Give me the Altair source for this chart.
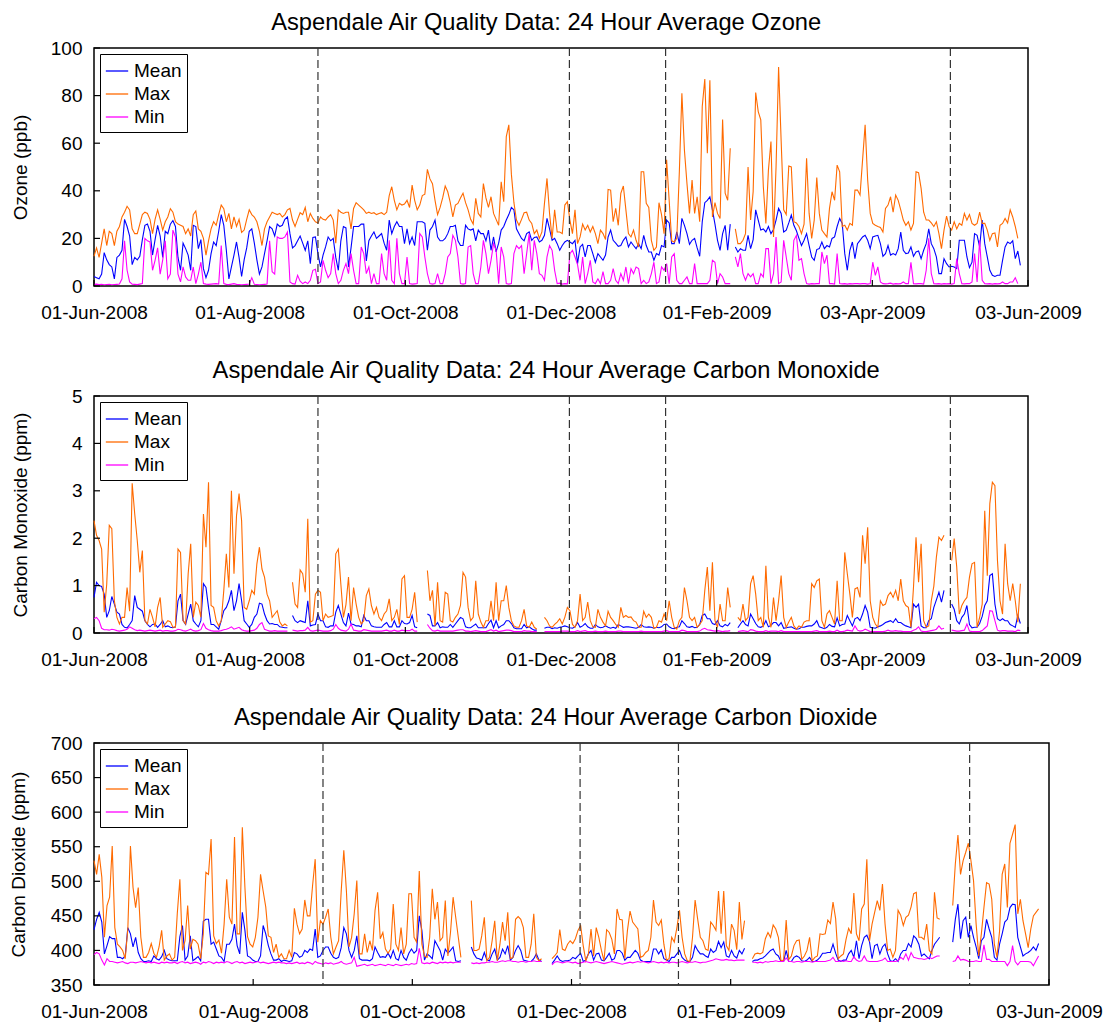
import altair as alt
import pandas as pd

FONT = "Liberation Sans"
TICK_LABELS = ["01-Jun-2008", "01-Aug-2008", "01-Oct-2008", "01-Dec-2008",
               "01-Feb-2009", "03-Apr-2009", "03-Jun-2009"]
X_END = 367
EVENT_DAYS = [88.0, 186.8, 224.6, 336.5]
SERIES = ["Mean", "Max", "Min"]
COLORS = ["#0000FF", "#FF6A00", "#FF00FF"]
N = None

# ---------------- Ozone (ppb), daily from 01-Jun-2008 ----------------
ozone_mean = [
    4, 3.5, 3, 5, 14, 11, 9, 8, 3, 12,
    13, 15, 28, 25, 21, 9, 12, 11, 12.5, 19.5,
    25.5, 26, 23, 13, 19.5, 25.5, 21, 12, 23, 22,
    26, 27.5, 25, 12, 6.6, 18, 15.7, 13, 6.6, 25.5,
    25, 15.7, 19.5, 7.3, 3.5, 6.6, 13.6, 18.5, 17, 23,
    30, 25.5, 15, 3, 8, 13, 18.5, 12, 4, 11,
    16, 23, 24, 18, 11, 5, 8, 13.6, 19, 25,
    24, 21, 26, 25, 25.5, 28, 29, 22, 16, 17,
    19, 21, 18, 15, 19, 9.4, 20.4, 20.6, 13.6, 8,
    13, 16.4, 20.6, 19, 20, 12, 6.6, 19, 25, 24.4,
    8, 16, 25, 25, 25, 26, 26, 10.5, 19, 21,
    22.7, 20, 21, 22, 18, 15, 27.7, 22, 25, 27,
    25, 25, 17.8, 24, 17.8, 20.6, 17, 27, 27, 27,
    26.3, 15, 23.5, 25, 27.7, 20.6, 19, 19, 20, 22,
    25, 25, 25.5, 19, 17, 17, 25.5, 24, 23.5, 24,
    19, 23.5, 22, 22, 19, 23.5, 15, 20.6, 14.3, 18,
    23.5, 25, 27.7, 30, 33, 32, 24, 22, 20, 19,
    22, 22.7, 19.2, 20.4, 20.6, 18.5, 19.2, 21.3, 28.4, 24,
    19.2, 20, 17.8, 15, 17, 18.5, 19.2, 18.5, 17.8, 19.2,
    9.4, 16.4, 17.5, 12.2, 17, 17, 13.6, 10, 13.6, 12.2,
    10.8, 13, 20.6, 23.5, 19.2, 18, 16.7, 17, 19.2, 20.6,
    16.4, 18.5, 17, 15.7, 17.8, 15.7, 21.3, 17, 14.3, 14.3,
    10.8, 13.6, 13, 17, 16.4, 27.7, 26.5, 17.8, 17.8, 22.7,
    17.8, 28.4, 25.5, 22, 17.5, 19.2, 20, 16, 12.5, 27,
    35, 36, 37.5, 32, 26, 19.2, 15, 22, 25.5, 15,
    26, N, 16.4, 14.3, 15.7, 15, 15, 21.3, 15.7, 19.5,
    32, 27.7, 23.5, 24, 22.7, 25, 22, 23.7, 27.7, 32.6,
    30.5, 22.7, 23.5, 26.5, 29.8, 25.5, 23.2, 20, 17, 19.2,
    22, 17, 12.2, 10.8, 15.3, 15.7, 18.5, 15.7, 17, 16.4,
    20, 20.6, 25, 28.4, 26.3, 13.6, 6.6, 15, 18.5, 11.5,
    17.8, 19.2, 20.6, 21.3, 19.2, 15.7, 20.6, 21, 21.3, 17.8,
    12.5, 13.6, 17, 13, 13.6, 13, 15.7, 22.7, 15, 13.6,
    13.9, 16.4, 12.5, 14.3, 14.7, 11.5, 15, 17.8, 24, 17.8,
    15.7, 12.2, 5.2, 5.2, 11.5, 9.4, 8, 8.3, 8, 7.3,
    19.2, 19.2, 19.2, 12.2, 7.7, 10, 22, 21.3, 16.4, 27.7,
    17.8, 12.2, 6.6, 4.5, 4, 4.5, 4.5, 10.8, 16.4, 18.5,
    17.8, 19, 11.5, 14.7, 8.7,
]
ozone_max = [
    12.5, 16, 12, 18, 24, 17, 23, 22, 17, 23,
    25, 29, 31, 33.5, 32, 24, 22, 22, 26, 30,
    31, 30.5, 28, 22, 28, 32, 28, 23.5, 27, 29,
    32.5, 31, 27, 26, 25.5, 25, 22, 24, 21, 30,
    31.5, 24, 23, 20, 13, 19, 24, 27, 25.5, 30,
    34, 32.5, 27, 30.5, 24, 29, 25, 28, 22.5, 23.5,
    28, 32, 30, 29, 27, 23, 17, 24, 27, 29,
    31, 30.5, 30, 30.5, 29, 30, 32, 32.6, 27.7, 25,
    28, 30.8, 30, 33, 27, 30.5, 28.4, 27, 26.5, 29,
    28, 27.7, 29, 30, 27.7, 18, 32, 31, 30.5, 31,
    31, 24, 32.6, 35, 34, 33, 32, 30.5, 31, 30.5,
    30.8, 30, 30.5, 30.8, 30, 31, 38, 41.7, 36, 32,
    34.7, 34, 34.4, 36, 33, 42.4, 36, 32, 34, 38,
    38.6, 49, 45, 43, 36, 30, 33, 37, 42, 39.6,
    35, 29, 34, 34.7, 37, 39, 35, 32, 28, 26,
    36.8, 30.5, 29, 43, 37, 33, 37.5, 30.5, 28, 25.5,
    43.8, 35.4, 62.8, 67.7, 47, 35, 27.7, 25.5, 28, 30.8,
    31, 27.7, 26.3, 22, 23.5, 20, 22.7, 34.7, 45.2, 30.5,
    20, 32, 22.7, 22.7, 22, 34, 35.4, 27.7, 22, 32,
    17.8, 20.6, 26, 23.5, 25.5, 22.7, 25, 22, 17.8, 23.5,
    22, 19.5, 40.6, 40.3, 27, 32.6, 25.5, 38.9, 42, 32,
    22, 20.6, 23.5, 19.2, 16.4, 48, 48, 34.7, 33, 19.2,
    15, 16.4, 35, 30, 22, 53, 36, 19, 18.5, 20,
    48, 81, 57, 43, 30.5, 44.5, 30.5, 37.5, 27, 75.4,
    87, 55.8, 86.4, 29, 35, 30.5, 28.4, 70, 39, 36,
    57.9, N, 24, 17.8, 17.8, 19.2, 22, 50, 27.7, 39.6,
    81.3, 73.3, 69.8, 41.7, 26.3, 48.7, 60.7, 20.6, 50, 92,
    61, 32, 30, 50.4, 50, 27, 26.5, 25, 22, 26,
    53.7, 30.5, 20, 27.7, 45.6, 30.5, 23.5, 22, 20.6, 32.6,
    39.6, 36, 50.8, 48, 25, 25.5, 23.5, 26.3, 25.5, 40.3,
    40.3, 38.2, 53, 67.7, 44.5, 30.5, 26.3, 25.5, 25, 24.6,
    22.7, 32.6, 34, 37.5, 31, 38.2, 36, 32, 27.7, 25.5,
    27, 23.5, 26.3, 48, 47.6, 41, 31, 27.7, 27.7, 26.5,
    25, 27, 22, 15.7, 23.5, 29.4, 25, 23.5, 27, 24,
    26.3, 25.5, 30.5, 27.7, 30, 26.3, 25.5, 26.3, 31, 26.3,
    26.3, 23.5, 19.2, 22, 22.3, 16.4, 25.5, 26.3, 28.4, 26.5,
    32, 29, 25, 20,
]
ozone_min = [
    0.7, 0.8, 0.6, 0.7, 0.5, 0.6, 0.7, 0.5, 0.6, 0.7,
    0.8, 3, 19, 6.6, 1.7, 0.8, 0.7, 0.6, 0.8, 1,
    20, 19, 18.5, 6.6, 10.8, 16, 5, 11, 19, 3,
    5, 23.5, 20.6, 5, 1.7, 8, 3.8, 2.4, 2.4, 8,
    1, 5, 10, 1, 0.8, 0.7, 0.8, 0.9, 1, 0.8,
    17, 1, 0.7, 0.6, 0.8, 1, 0.7, 0.6, 0.5, 0.6,
    0.7, 0.8, 3.5, 0.7, 0.6, 0.5, 0.6, 0.7, 0.8, 19,
    6, 5, 20.6, 20, 20, 20.6, 22.7, 1.7, 1, 0.8,
    4.5, 2, 1, 1.7, 1, 2.4, 6.6, 7, 1, 1.7,
    10.8, 6.6, 3.5, 5.2, 13.6, 5.2, 1, 2.4, 6.6, 9.4,
    5.2, 13.6, 6.6, 1, 1, 16.4, 13.6, 5.2, 8, 1,
    5.2, 1, 1, 13.6, 5.2, 2.4, 19.2, 2.4, 1, 20,
    5.2, 1, 1, 12.2, 1, 0.8, 0.9, 1, 22, 20.6,
    12.2, 5.2, 1, 0.8, 1, 5.2, 1, 1, 5.2, 12.2,
    13.6, 21.3, 19.2, 12.2, 1, 0.8, 1, 16.4, 17, 5.2,
    1, 1, 8, 19.2, 13.6, 5.2, 10.8, 17.8, 15, 1,
    16.4, 12.2, 1, 0.8, 1, 13.6, 17, 15.7, 17, 5.2,
    13.6, 22, 6.6, 19.2, 13.6, 5.2, 4.5, 2.4, 12.2, 17,
    15, 6.6, 1, 1.2, 0.8, 1, 0.9, 13.6, 15, 12.2,
    9, 2.4, 12.2, 1, 5.2, 10.8, 1.7, 1, 3, 1,
    6, 1, 1, 2.4, 7.3, 2.4, 1, 5.2, 2.4, 8,
    1, 7.3, 5.2, 8, 7.3, 1, 2.4, 1, 1.7, 5.2,
    10, 1, 1.7, 8, 6.6, 9.4, 1, 12.2, 13.6, 2.4,
    1, 1, 2.4, 3.8, 1, 1, 9.4, 1, 1, 1,
    1, 1, 2.4, 10.8, 10, 1, 5.2, 3.8, 1, 1,
    1, N, 12.2, 8, 13.6, 5.2, 2.4, 5.2, 3.8, 5.2,
    1, 1, 5.2, 3.8, 15.7, 15.7, 1, 5.2, 20.6, 1,
    1.7, 19.2, 12.2, 5.2, 2.4, 19.2, 21.3, 10.8, 11.5, 5.2,
    1, 0.8, 1, 0.9, 1, 1, 14.3, 9.4, 13, 1,
    1, 0.8, 13.6, 1, 0.9, 1, 0.8, 1, 0.9, 1,
    1, 0.9, 1, 1, 0.8, 1, 10, 4.5, 8, 1.7,
    1, 0.9, 1, 1.2, 0.8, 1, 0.9, 1, 1.7, 1,
    1, 10, 1, 0.9, 1, 1, 0.8, 6.6, 20, 5.2,
    1, 0.9, 1, 0.8, 1, 0.9, 1, 0.8, 1, 11.5,
    5.2, 1, 0.9, 1, 1, 1.7, 13.6, 1.7, 19.2, 2.4,
    1, 0.9, 1, 0.8, 1, 0.9, 1, 1.7, 1, 1,
    1.7, 1.7, 3.5, 1,
]

# ---------------- Carbon monoxide (ppm) ----------------
co_mean = [
    0.75, 1.07, 1.0, 0.98, 0.82, 0.33, 0.47, 0.77, 0.61, 0.44,
    0.4, 0.18, 0.12, 0.11, 0.18, 0.26, 0.79, 0.54, 0.5, 0.46,
    0.26, 0.18, 0.13, 0.18, 0.19, 0.12, 0.18, 0.26, 0.13, 0.15,
    0.12, 0.11, 0.13, 0.68, 0.82, 0.26, 0.18, 0.4, 0.61, 0.26,
    0.19, 0.13, 0.26, 1.04, 0.96, 0.54, 0.18, 0.18, 0.13, 0.08,
    0.26, 0.47, 0.54, 0.68, 0.9, 0.47, 0.68, 1.04, 0.68, 0.26,
    0.19, 0.12, 0.18, 0.33, 0.4, 0.63, 0.61, 0.4, 0.26, 0.19,
    0.2, 0.18, 0.18, 0.13, 0.12, 0.11, 0.11, N, 0.37, 0.26,
    0.22, 0.26, 0.24, 0.22, 0.68, 0.15, 0.17, 0.18, 0.4, 0.26,
    0.26, 0.13, 0.12, 0.15, 0.15, 0.44, 0.58, 0.4, 0.22, 0.15,
    0.42, 0.19, 0.18, 0.15, 0.15, 0.13, 0.37, 0.26, 0.26, 0.15,
    0.13, 0.12, 0.12, 0.12, 0.18, 0.22, 0.13, 0.13, 0.26, 0.13,
    0.13, 0.26, 0.2, 0.19, 0.22, 0.37, 0.13, 0.11, N, N,
    N, 0.4, 0.37, 0.15, 0.15, 0.22, 0.11, 0.13, 0.12, 0.12,
    0.18, 0.12, 0.19, 0.26, 0.33, 0.3, 0.13, 0.11, 0.11, 0.15,
    0.19, 0.11, 0.11, 0.11, 0.11, 0.2, 0.27, 0.11, 0.26, 0.11,
    0.15, 0.18, 0.26, 0.26, 0.2, 0.11, 0.09, 0.09, 0.09, 0.18,
    0.11, 0.13, 0.09, 0.06, 0.06, N, N, 0.1, 0.12, 0.12,
    0.09, 0.11, 0.1, 0.12, 0.13, 0.15, 0.13, 0.11, 0.1, 0.13,
    0.22, 0.12, 0.15, 0.2, 0.13, 0.1, 0.1, 0.18, 0.13, 0.11,
    0.12, 0.15, 0.12, 0.1, 0.12, 0.1, 0.18, 0.15, 0.12, 0.13,
    0.13, 0.12, 0.11, 0.1, 0.12, 0.18, 0.13, 0.12, 0.13, 0.12,
    0.1, 0.12, 0.11, 0.13, 0.18, 0.19, 0.13, 0.1, 0.09, 0.12,
    0.13, 0.26, 0.2, 0.13, 0.12, 0.14, 0.11, 0.12, 0.18, 0.37,
    0.4, 0.3, 0.3, 0.2, 0.18, 0.26, 0.15, 0.13, 0.18, 0.15,
    0.22, N, N, 0.11, 0.19, 0.26, 0.18, 0.15, 0.4, 0.3,
    0.2, 0.13, 0.12, 0.15, 0.26, 0.13, 0.16, 0.22, 0.22, 0.15,
    0.22, 0.1, 0.11, 0.12, 0.13, 0.1, 0.08, 0.09, 0.12, 0.12,
    0.14, 0.15, 0.15, 0.19, 0.26, 0.13, 0.11, 0.09, 0.12, 0.18,
    0.14, 0.13, 0.32, 0.15, 0.18, 0.19, 0.37, 0.26, 0.15, 0.3,
    0.33, 0.26, 0.4, 0.58, 0.44, 0.12, 0.11, 0.1, 0.13, 0.15,
    0.18, 0.22, 0.24, 0.26, 0.22, 0.3, 0.22, 0.22, 0.18, 0.15,
    0.13, 0.11, 0.61, 0.54, 0.61, 0.15, 0.11, 0.11, 0.26, 0.3,
    0.54, 0.7, 0.86, 0.65, 0.9, N, N, 0.61, 0.5, 0.26,
    0.19, 0.33, 0.4, 0.58, 0.18, 0.11, 0.12, 0.12, 0.2, 0.35,
    0.58, 0.68, 1.21, 1.25, 0.61, 0.3, 0.26, 0.3, 0.26, 0.26,
    0.18, 0.15, 0.12, 0.37, 0.2,
]
co_max = [
    2.37, 2.06, 1.95, 1.77, 0.44, 1.03, 2.27, 2.2, 0.68, 0.33,
    0.19, 0.33, 0.33, 0.96, 0.46, 3.16, 2.51, 1.95, 1.28, 1.74,
    0.26, 0.19, 0.5, 0.33, 0.13, 0.54, 0.75, 0.12, 0.19, 0.26,
    0.24, 0.12, 0.12, 1.77, 1.7, 0.26, 0.19, 1.25, 1.88, 0.33,
    0.65, 0.58, 0.33, 2.51, 1.81, 3.18, 0.58, 0.54, 0.26, 0.15,
    0.26, 0.9, 1.67, 0.96, 3.0, 1.25, 2.48, 2.94, 2.37, 0.54,
    0.5, 0.68, 0.9, 0.82, 1.46, 1.81, 1.35, 1.18, 0.82, 0.68,
    0.33, 0.4, 0.47, 0.23, 0.15, 0.19, 0.15, N, 1.07, 0.61,
    0.54, 1.33, 1.25, 0.86, 2.41, 0.23, 0.26, 0.82, 0.9, 0.86,
    0.26, 0.4, 0.33, 0.35, 0.37, 1.67, 1.77, 1.03, 0.33, 0.6,
    1.18, 0.26, 0.96, 0.61, 0.33, 0.19, 0.26, 0.79, 0.93, 0.58,
    0.4, 0.54, 0.33, 0.26, 0.4, 0.47, 0.72, 0.26, 0.33, 0.5,
    0.18, 1.14, 1.21, 0.33, 0.33, 0.5, 0.86, 0.23, N, N,
    N, 1.32, 0.68, 0.9, 0.15, 1.07, 0.26, 0.23, 0.86, 0.82,
    0.26, 0.23, 0.33, 0.4, 0.58, 1.28, 1.18, 0.54, 0.26, 0.33,
    1.1, 0.4, 0.23, 0.12, 0.26, 0.26, 0.68, 0.26, 1.07, 0.26,
    0.68, 0.68, 1.0, 0.54, 0.26, 0.15, 0.12, 0.12, 0.26, 0.5,
    0.15, 0.12, 0.23, 0.12, 0.08, N, N, 0.33, 0.26, 0.15,
    0.12, 0.18, 0.23, 0.3, 0.19, 0.33, 0.54, 0.47, 0.18, 0.12,
    0.26, 0.82, 0.26, 0.33, 0.65, 0.26, 0.13, 0.12, 0.5, 0.33,
    0.23, 0.15, 0.46, 0.33, 0.26, 0.18, 0.12, 0.54, 0.33, 0.37,
    0.33, 0.34, 0.26, 0.23, 0.12, 0.12, 0.46, 0.33, 0.4, 0.33,
    0.1, 0.12, 0.26, 0.23, 0.4, 0.26, 0.68, 0.33, 0.12, 0.08,
    0.26, 0.33, 0.96, 0.68, 0.33, 0.26, 0.33, 0.12, 0.18, 0.26,
    0.9, 1.39, 0.47, 1.49, 0.26, 0.12, 0.61, 0.26, 0.26, 0.96,
    0.54, N, N, 0.33, 0.26, 0.61, 0.26, 0.33, 1.04, 1.21,
    0.82, 0.26, 0.33, 0.12, 1.42, 0.33, 0.12, 0.75, 0.26, 0.68,
    1.21, 0.33, 0.12, 0.23, 0.33, 0.15, 0.08, 0.15, 0.12, 0.23,
    0.26, 0.26, 1.04, 0.96, 1.1, 1.14, 0.26, 0.12, 0.4, 0.47,
    0.33, 0.19, 1.1, 0.26, 0.26, 1.7, 1.25, 0.82, 0.33, 0.93,
    0.96, 0.75, 2.06, 1.46, 2.23, 0.68, 0.33, 0.19, 0.12, 0.68,
    0.58, 0.61, 0.79, 0.86, 0.75, 0.9, 0.68, 1.14, 0.68, 0.58,
    0.54, 0.12, 0.96, 2.02, 1.07, 1.88, 0.26, 0.12, 0.15, 0.68,
    0.99, 1.6, 2.02, 1.95, 2.06, N, N, 1.53, 1.99, 1.39,
    0.4, 0.58, 0.68, 0.75, 1.18, 1.46, 1.49, 0.12, 0.33, 0.61,
    2.58, 1.21, 2.73, 3.18, 3.11, 1.53, 0.68, 0.4, 1.88, 1.04,
    0.68, 1.04, 0.68, 0.23, 1.04,
]
co_min = [
    0.3, 0.33, 0.26, 0.1, 0.07, 0.07, 0.06, 0.08, 0.07, 0.05,
    0.04, 0.05, 0.06, 0.08, 0.13, 0.1, 0.07, 0.05, 0.06, 0.05,
    0.04, 0.05, 0.06, 0.05, 0.04, 0.05, 0.06, 0.04, 0.05, 0.05,
    0.04, 0.04, 0.05, 0.08, 0.07, 0.05, 0.04, 0.06, 0.08, 0.05,
    0.04, 0.05, 0.07, 0.2, 0.1, 0.07, 0.05, 0.04, 0.04, 0.04,
    0.05, 0.07, 0.08, 0.1, 0.13, 0.08, 0.1, 0.12, 0.07, 0.05,
    0.04, 0.04, 0.05, 0.06, 0.1, 0.18, 0.22, 0.08, 0.06, 0.04,
    0.04, 0.05, 0.04, 0.04, 0.04, 0.04, 0.04, N, 0.06, 0.05,
    0.04, 0.05, 0.05, 0.06, 0.12, 0.05, 0.04, 0.05, 0.06, 0.05,
    0.04, 0.04, 0.04, 0.05, 0.08, 0.18, 0.1, 0.06, 0.05, 0.04,
    0.08, 0.19, 0.06, 0.05, 0.04, 0.04, 0.07, 0.06, 0.05, 0.04,
    0.04, 0.04, 0.04, 0.04, 0.05, 0.06, 0.04, 0.04, 0.06, 0.04,
    0.04, 0.06, 0.05, 0.05, 0.05, 0.08, 0.04, 0.04, N, N,
    N, 0.18, 0.1, 0.05, 0.04, 0.06, 0.04, 0.04, 0.04, 0.04,
    0.04, 0.04, 0.05, 0.06, 0.07, 0.07, 0.04, 0.04, 0.03, 0.04,
    0.05, 0.04, 0.03, 0.03, 0.03, 0.05, 0.07, 0.04, 0.06, 0.03,
    0.04, 0.05, 0.06, 0.06, 0.05, 0.03, 0.03, 0.03, 0.03, 0.05,
    0.04, 0.04, 0.03, 0.03, 0.03, N, N, 0.03, 0.03, 0.03,
    0.03, 0.03, 0.03, 0.03, 0.04, 0.04, 0.04, 0.03, 0.03, 0.03,
    0.05, 0.03, 0.04, 0.05, 0.03, 0.03, 0.03, 0.04, 0.03, 0.03,
    0.03, 0.04, 0.03, 0.03, 0.03, 0.03, 0.04, 0.04, 0.03, 0.03,
    0.03, 0.03, 0.03, 0.03, 0.03, 0.04, 0.03, 0.03, 0.03, 0.03,
    0.03, 0.03, 0.03, 0.03, 0.04, 0.05, 0.03, 0.03, 0.03, 0.03,
    0.03, 0.06, 0.05, 0.03, 0.03, 0.03, 0.03, 0.03, 0.04, 0.08,
    0.1, 0.07, 0.06, 0.05, 0.04, 0.05, 0.04, 0.03, 0.04, 0.04,
    0.05, N, N, 0.03, 0.04, 0.05, 0.04, 0.03, 0.07, 0.06,
    0.04, 0.03, 0.03, 0.03, 0.05, 0.03, 0.04, 0.04, 0.04, 0.03,
    0.05, 0.03, 0.03, 0.03, 0.03, 0.03, 0.03, 0.03, 0.03, 0.03,
    0.03, 0.03, 0.03, 0.04, 0.05, 0.03, 0.03, 0.03, 0.03, 0.04,
    0.03, 0.03, 0.06, 0.03, 0.03, 0.04, 0.06, 0.05, 0.04, 0.15,
    0.06, 0.04, 0.05, 0.08, 0.06, 0.03, 0.03, 0.03, 0.03, 0.03,
    0.03, 0.04, 0.06, 0.04, 0.04, 0.05, 0.04, 0.04, 0.03, 0.03,
    0.03, 0.03, 0.06, 0.08, 0.13, 0.04, 0.03, 0.03, 0.04, 0.05,
    0.06, 0.08, 0.15, 0.08, 0.1, N, N, 0.06, 0.05, 0.04,
    0.04, 0.05, 0.06, 0.19, 0.04, 0.03, 0.03, 0.03, 0.03, 0.05,
    0.1, 0.15, 0.47, 0.46, 0.26, 0.06, 0.04, 0.05, 0.05, 0.04,
    0.04, 0.04, 0.03, 0.06, 0.05,
]

# ---------------- Carbon dioxide (ppm) ----------------
co2_mean = [
    430, 445, 455, 441, 395, 407, 420, 417, 417, 390,
    390, 388, 392, 433, 424, 405, 419, 397, 388, 384,
    384, 385, 384, 392, 388, 386, 391, 400, 388, 386,
    385, 385, 385, 420, 436, 386, 392, 421, 385, 388,
    391, 385, 442, 445, 445, 409, 412, 402, 392, 390,
    384, 409, 409, 416, 438, 407, 395, 455, 429, 392,
    390, 386, 384, 384, 392, 436, 424, 407, 395, 386,
    386, 388, 384, 386, 385, 384, 385, 397, 395, 390,
    392, 400, 397, 402, 400, 431, 390, 392, 400, 405,
    405, 396, 390, 388, 390, 404, 433, 424, 400, 390,
    400, 421, 388, 386, 386, 386, 385, 388, 405, 397,
    390, 391, 390, 396, 389, 400, 388, 386, 400, 390,
    386, 396, 402, 396, 400, 450, 429, 386, 395, 392,
    388, 414, 407, 400, 386, 402, 396, 400, 405, 385,
    384, 385, N, N, N, 405, 395, 389, 388, 386,
    397, 386, 385, 395, 402, 386, 390, 402, 395, 407,
    386, 390, 400, 407, 400, 386, 385, 384, 384, 388,
    395, 386, 384, N, N, N, 381, 386, 392, 386,
    384, 385, 385, 386, 390, 388, 392, 396, 384, 386,
    395, 400, 386, 395, 396, 386, 385, 390, 396, 386,
    388, 400, 400, 396, 386, 390, 390, 395, 400, 396,
    386, 384, 384, 384, 384, 402, 402, 395, 401, 388,
    386, 384, 390, 390, 395, 400, 390, 386, 384, 384,
    390, 407, 400, 395, 395, 392, 390, 402, 397, 400,
    413, 404, 412, 392, 390, 400, 392, 389, 400, 395,
    403, N, N, 384, 386, 386, 388, 389, 392, 396,
    400, 402, 395, 392, 384, 384, 400, 384, 384, 390,
    392, 390, 385, 384, 386, 390, 384, 384, 386, 390,
    396, 396, 397, 397, 409, 396, 386, 384, 386, 386,
    395, 400, 390, 414, 388, 407, 419, 422, 413, 388,
    407, 409, 395, 405, 409, 395, 385, 384, 388, 384,
    395, 400, 400, 410, 405, 421, 417, 409, 392, 395,
    391, 388, 400, 409, 414, 419, N, N, N, N,
    412, 445, 467, 417, 443, 448, 419, 436, 419, 405,
    388, 414, 419, 445, 431, 419, 390, 386, 409, 424,
    441, 445, 462, 467, 466, 419, 405, 392, 395, 397,
    400, 405, 400, 410,
]
co2_max = [
    530, 510, 539, 506, 419, 465, 477, 551, 433, 409,
    405, 400, 388, 431, 551, 491, 462, 491, 419, 390,
    390, 397, 410, 396, 390, 405, 429, 386, 392, 395,
    386, 390, 453, 503, 400, 414, 465, 402, 416, 414,
    409, 388, 424, 513, 510, 561, 421, 410, 415, 396,
    438, 503, 448, 438, 564, 424, 424, 578, 491, 420,
    409, 405, 419, 448, 510, 486, 463, 421, 419, 397,
    409, 390, 395, 388, 388, 400, 390, 461, 438, 424,
    431, 473, 450, 450, 494, 532, 412, 443, 438, 448,
    460, 419, 395, 405, 414, 486, 545, 486, 405, 419,
    453, 501, 395, 395, 424, 397, 414, 400, 458, 484,
    417, 426, 402, 396, 402, 467, 409, 400, 433, 395,
    409, 482, 482, 419, 412, 515, 409, 392, 390, 419,
    489, 445, 470, 414, 419, 472, 392, 426, 477, 448,
    419, 390, N, N, N, 472, 400, 400, 402, 421,
    448, 385, 390, 414, 443, 385, 409, 441, 414, 455,
    388, 390, 445, 449, 445, 433, 390, 390, 409, 453,
    390, 385, 388, N, N, N, 388, 392, 397, 430,
    402, 400, 409, 414, 410, 417, 429, 436, 407, 385,
    395, 431, 392, 433, 419, 400, 385, 430, 426, 416,
    395, 460, 445, 444, 388, 429, 457, 441, 436, 431,
    390, 392, 397, 400, 419, 473, 441, 436, 444, 409,
    386, 388, 419, 412, 433, 458, 419, 395, 385, 384,
    419, 473, 445, 419, 414, 402, 400, 441, 436, 429,
    486, 424, 486, 407, 400, 438, 429, 401, 470, 416,
    443, N, N, 388, 395, 396, 395, 397, 417, 426,
    419, 437, 431, 419, 385, 386, 444, 387, 392, 407,
    414, 415, 387, 392, 400, 419, 385, 390, 392, 424,
    423, 424, 444, 439, 470, 446, 388, 392, 395, 416,
    432, 424, 483, 424, 414, 460, 467, 532, 413, 438,
    455, 472, 458, 496, 438, 400, 402, 390, 400, 458,
    451, 436, 448, 451, 463, 482, 484, 419, 419, 416,
    438, 400, 395, 484, 447, 445, N, N, N, N,
    465, 525, 567, 510, 530, 542, 555, 530, 501, 438,
    392, 424, 462, 498, 496, 474, 409, 390, 428, 510,
    525, 462, 555, 568, 582, 453, 474, 443, 424, 404,
    431, 450, 455, 460,
]
co2_min = [
    394, 397, 395, 386, 379, 388, 384, 384, 383, 382,
    383, 384, 382, 381, 383, 383, 382, 383, 384, 383,
    382, 383, 382, 383, 382, 381, 383, 382, 383, 382,
    382, 383, 381, 383, 384, 382, 383, 381, 382, 383,
    382, 380, 383, 382, 384, 383, 381, 383, 382, 383,
    382, 384, 383, 381, 383, 384, 382, 383, 381, 382,
    383, 382, 383, 384, 382, 383, 382, 381, 382, 383,
    382, 383, 382, 382, 381, 382, 381, 382, 383, 381,
    382, 381, 383, 382, 380, 384, 382, 381, 380, 382,
    381, 382, 380, 381, 382, 384, 381, 380, 381, 382,
    390, 377, 378, 379, 380, 378, 379, 380, 378, 379,
    380, 379, 378, 380, 379, 378, 380, 379, 378, 379,
    380, 379, 381, 380, 381, 403, 382, 381, 382, 381,
    383, 382, 381, 383, 382, 383, 382, 383, 382, 383,
    383, 383, N, N, N, 382, 381, 382, 381, 382,
    382, 383, 383, 384, 383, 383, 384, 385, 384, 385,
    385, 384, 384, 383, 384, 384, 383, 384, 384, 385,
    384, 384, 384, N, N, N, 379, 383, 384, 383,
    382, 383, 384, 383, 382, 383, 381, 382, 383, 384,
    383, 382, 383, 384, 383, 382, 381, 382, 383, 384,
    383, 382, 381, 380, 381, 382, 383, 382, 383, 384,
    383, 384, 383, 382, 383, 384, 383, 382, 383, 382,
    383, 382, 383, 383, 382, 383, 384, 383, 382, 383,
    383, 384, 383, 382, 383, 383, 384, 385, 386, 388,
    387, 386, 386, 387, 386, 386, 385, 386, 386, 386,
    386, N, N, 383, 383, 382, 383, 382, 384, 383,
    384, 384, 385, 384, 384, 384, 389, 384, 384, 383,
    384, 384, 383, 384, 384, 384, 383, 384, 384, 384,
    384, 384, 385, 386, 390, 384, 384, 385, 384, 385,
    384, 384, 391, 386, 384, 385, 392, 385, 384, 384,
    384, 384, 385, 386, 389, 384, 384, 384, 384, 385,
    390, 387, 395, 386, 397, 390, 389, 388, 388, 387,
    388, 390, 388, 390, 392, 392, N, N, N, N,
    384, 385, 392, 386, 387, 386, 384, 384, 384, 385,
    384, 384, 408, 387, 387, 384, 384, 384, 384, 384,
    384, 378, 384, 407, 384, 379, 384, 384, 384, 384,
    383, 378, 385, 392,
]

TICK_STEP = X_END / 6
TICK_VALUES = [TICK_STEP * i for i in range(7)]
LABEL_EXPR = ("[" + ",".join("'" + t + "'" for t in TICK_LABELS) + "]"
              + "[round(datum.value / " + repr(TICK_STEP) + ")]")


def to_long(mean, mx, mn):
    rows = []
    for name, vals in zip(SERIES, (mean, mx, mn)):
        seg = 0
        for day, v in enumerate(vals):
            if v is None:
                seg += 1
                continue
            rows.append({"day": day, "value": v, "series": name,
                         "seg": name + "-" + str(seg)})
    return pd.DataFrame(rows)


def panel(title, ytitle, mean, mx, mn, ydomain, yticks, width, height, ytitle_x):
    df = to_long(mean, mx, mn)
    xscale = alt.Scale(domain=[0, X_END], nice=False, zero=False)
    yscale = alt.Scale(domain=ydomain, nice=False, zero=False)
    xaxis = alt.Axis(values=TICK_VALUES, labelExpr=LABEL_EXPR, title=None,
                     ticks=False, domain=False, grid=False, labelFlush=False,
                     labelOverlap=False, labelPadding=17, labelFontSize=19,
                     labelFont=FONT, labelColor="black")
    yaxis = alt.Axis(values=yticks, title=ytitle, ticks=False, domain=False,
                     grid=False, labelPadding=12, labelFontSize=19,
                     labelFont=FONT, labelColor="black",
                     titleFont=FONT, titleFontSize=19, titleFontWeight="normal",
                     titleColor="black", titleX=ytitle_x, titleY=height / 2,
                     titleAngle=270, titleAlign="center", titleBaseline="middle")

    lines = alt.Chart(df).mark_line(strokeWidth=1.1).encode(
        x=alt.X("day:Q", scale=xscale, axis=xaxis),
        y=alt.Y("value:Q", scale=yscale, axis=yaxis),
        color=alt.Color("series:N", scale=alt.Scale(domain=SERIES, range=COLORS),
                        legend=alt.Legend(title=None, orient="top-left", offset=6,
                                          fillColor="white", strokeColor="black",
                                          padding=5, rowPadding=1, labelOffset=5,
                                          labelFontSize=19, labelFont=FONT,
                                          labelColor="black", symbolType="stroke",
                                          symbolSize=500, symbolStrokeWidth=1.3)),
        detail="seg:N",
    )

    events = alt.Chart(pd.DataFrame({"day": EVENT_DAYS})).mark_rule(
        color="#333333", strokeWidth=1.2, strokeDash=[8, 4]
    ).encode(x=alt.X("day:Q", scale=xscale, axis=xaxis))

    xt = alt.Chart(pd.DataFrame({"day": TICK_VALUES})).mark_rule(
        color="black", strokeWidth=1.2
    ).encode(x=alt.X("day:Q", scale=xscale, axis=xaxis),
             y=alt.value(height), y2=alt.value(height - 6))

    yt = alt.Chart(pd.DataFrame({"value": yticks})).mark_rule(
        color="black", strokeWidth=1.2
    ).encode(y=alt.Y("value:Q", scale=yscale, axis=yaxis),
             x=alt.value(0), x2=alt.value(6))

    return alt.layer(lines, events, xt, yt).properties(
        width=width, height=height,
        title=alt.TitleParams(text=title, fontSize=23.7, font=FONT,
                              fontWeight="normal", color="black",
                              anchor="middle", frame="bounds", offset=4),
    )


p1 = panel("Aspendale Air Quality Data: 24 Hour Average Ozone", "Ozone (ppb)",
           ozone_mean, ozone_max, ozone_min, [0, 100], [0, 20, 40, 60, 80, 100],
           934, 238, -74)
p2 = panel("Aspendale Air Quality Data: 24 Hour Average Carbon Monoxide",
           "Carbon Monoxide (ppm)", co_mean, co_max, co_min, [0, 5],
           [0, 1, 2, 3, 4, 5], 934, 237, -74)
p3 = panel("Aspendale Air Quality Data: 24 Hour Average Carbon Dioxide",
           "Carbon Dioxide (ppm)", co2_mean, co2_max, co2_min, [350, 700],
           [350, 400, 450, 500, 550, 600, 650, 700], 955, 242, -76)

chart = alt.vconcat(p1, p2, p3, spacing=35).resolve_scale(
    color="independent", x="independent", y="independent"
).resolve_legend(color="independent").properties(
    padding={"left": 8, "top": 10, "right": 5, "bottom": 2},
    background="white",
).configure_view(stroke="black", strokeWidth=1.5)

chart.save("out.html", embed_options={"renderer": "svg", "actions": False})
